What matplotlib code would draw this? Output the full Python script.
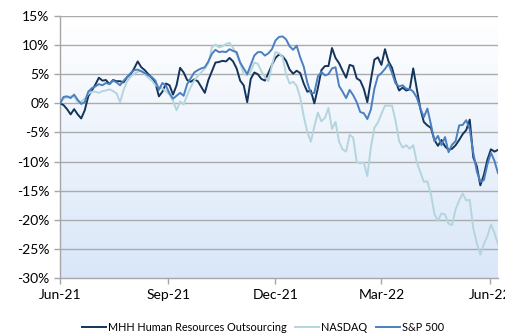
import matplotlib
matplotlib.use("Agg")
import matplotlib.pyplot as plt
import matplotlib.dates as mdates
import numpy as np
import pandas as pd

# one observation every 3 days, starting 1 Jun 2021
dates = pd.date_range("2021-06-01", periods=125, freq="3D")

# cumulative return since Jun-21, in %
mhh = [0, -0.3, -1.0, -1.9, -1.0, -1.9, -2.6, -1.2, 1.2, 2.2,
       3.2, 4.4, 3.9, 4.0, 3.3, 4.0, 3.8, 3.8, 3.6, 4.5,
       5.0, 6.0, 7.2, 6.2, 5.7, 5.0, 4.4, 3.5, 1.2, 2.0,
       3.4, 3.1, 1.5, 3.1, 6.1, 5.3, 4.0, 3.7, 4.1, 3.8,
       2.8, 1.8, 4.0, 5.5, 7.0, 7.1, 7.3, 7.2, 7.8, 7.2,
       6.0, 3.9, 3.1, 0.2, 4.2, 5.3, 5.0, 4.2, 3.9, 5.2,
       6.6, 7.8, 8.4, 8.1, 7.3, 5.8, 5.1, 5.6, 5.2, 3.4,
       2.0, 2.2, 0.0, 2.6, 5.7, 6.4, 6.4, 9.5, 7.8, 6.9,
       5.6, 4.4, 6.6, 6.4, 4.3, 3.9, 2.5, 0.2, 4.0, 7.5,
       7.9, 6.6, 9.3, 7.2, 6.1, 3.8, 2.2, 2.7, 2.2, 2.4,
       6.0, 2.5, -0.9, -3.2, -3.8, -4.2, -6.3, -7.3, -6.3, -7.4,
       -8.0, -7.8, -7.2, -6.3, -5.3, -4.6, -2.8, -9.3, -10.8, -14.1,
       -12.3, -9.7, -7.9, -8.3, -8.0]

nasdaq = [0, 0.8, 1.0, 1.2, 1.2, 0.2, 0.3, 0.8, 1.6, 2.0,
          2.0, 1.8, 2.1, 2.2, 2.4, 2.1, 1.7, 0.2, 2.3, 3.8,
          4.6, 5.1, 5.4, 5.6, 5.0, 4.4, 3.9, 3.1, 2.8, 2.5,
          2.1, 1.5, 0.4, -1.2, 0.3, -0.2, 1.4, 2.8, 3.9, 4.7,
          5.3, 6.0, 6.9, 9.6, 10.1, 9.6, 9.8, 10.2, 10.4, 9.5,
          8.4, 7.0, 5.0, 4.8, 5.5, 7.0, 6.8, 5.5, 4.5, 3.8,
          6.5, 8.8, 8.6, 8.0, 5.0, 3.4, 3.7, 3.0, 1.0, -2.2,
          -4.9, -6.6, -4.0, -1.6, -3.1, -2.5, -0.8, -4.4, -3.2, -6.6,
          -7.9, -8.3, -5.4, -5.9, -10.1, -10.3, -10.2, -12.5, -7.6, -4.2,
          -3.3, -1.8, -0.4, -0.4, -0.4, -3.0, -6.5, -7.6, -7.2, -7.8,
          -7.2, -10.1, -11.8, -13.5, -13.4, -15.6, -19.0, -20.2, -18.9, -19.1,
          -20.7, -20.9, -18.2, -16.7, -15.5, -16.7, -16.6, -21.5, -24.0, -26.0,
          -24.2, -22.8, -20.8, -22.3, -24.2]

sp500 = [0, 1.1, 1.2, 0.9, 1.5, 0.6, -0.1, 0.2, 2.0, 2.6,
         2.9, 3.3, 3.1, 3.5, 3.3, 3.9, 3.6, 3.1, 3.9, 4.5,
         5.2, 5.7, 5.8, 5.5, 5.2, 4.8, 4.5, 3.9, 2.3, 3.5,
         3.0, 1.7, 0.8, 1.3, 1.8, 1.3, 3.3, 4.3, 5.3, 5.7,
         6.0, 6.2, 7.2, 8.5, 9.2, 8.8, 8.9, 8.8, 9.3, 9.0,
         8.8, 7.0, 6.0, 5.0, 6.6, 8.2, 8.8, 8.8, 8.2, 8.6,
         9.3, 10.8, 11.4, 11.5, 11.0, 9.8, 9.2, 9.9, 7.9, 6.3,
         3.6, 1.7, 1.8, 4.6, 5.4, 4.8, 5.0, 6.0, 6.2, 3.0,
         2.0, 0.9, 2.3, 1.4, 0.2, -1.5, -1.7, -2.7, -1.1, 2.5,
         4.7, 5.2, 5.9, 6.8, 5.2, 3.4, 2.9, 3.1, 2.5, 2.5,
         2.0, 1.0, -0.8, -2.4, -0.9, -3.6, -6.5, -5.6, -7.2, -5.8,
         -8.4, -7.1, -6.5, -3.8, -3.7, -2.9, -4.5, -8.5, -11.7, -13.5,
         -13.2, -10.5, -8.5, -9.9, -12.0]

series_names = ["MHH Human Resources Outsourcing", "NASDAQ", "S&P 500"]
series_colors = ["#14345a", "#b4d5de", "#4b7fbf"]
yticks = [-30, -25, -20, -15, -10, -5, 0, 5, 10, 15]
xticks = ["2021-06-01", "2021-09-01", "2021-12-01", "2022-03-01", "2022-06-01"]

plt.rcParams["font.family"] = ["Lato", "DejaVu Sans"]

fig = plt.figure(figsize=(5.06, 3.34), dpi=100)
ax = fig.add_axes([0.1186, 0.168, 0.8656, 0.784])

# white-to-pale-blue fill of the plot area
grad = np.linspace(1, 0, 256).reshape(-1, 1)
bg = np.ones((256, 1, 3))
top = np.array([1.0, 1.0, 1.0])
bot = np.array([0.85, 0.905, 0.975])
bg[:, 0, :] = bot + (top - bot) * grad
ax.imshow(bg, extent=[0, 1, 0, 1], transform=ax.transAxes, aspect="auto", zorder=0)

for y in yticks[1:]:
    ax.axhline(y, color="#ababab", lw=1.0, zorder=1)

for vals, name, col in zip([mhh, nasdaq, sp500], series_names, series_colors):
    ax.plot(dates, vals, color=col, lw=1.4, label=name, zorder=3)

ax.set_xlim(dates[0], dates[-1])
ax.set_ylim(-30, 15)
ax.set_yticks(yticks)
ax.set_yticklabels([f"{v}%" for v in yticks])
ax.set_xticks(pd.to_datetime(xticks))
ax.xaxis.set_major_formatter(mdates.DateFormatter("%b-%y"))

for s in ["top", "right"]:
    ax.spines[s].set_visible(False)
for s in ["left", "bottom"]:
    ax.spines[s].set_color("#a6a6a6")
    ax.spines[s].set_linewidth(1.0)
ax.tick_params(axis="both", colors="#a6a6a6", labelcolor="black", labelsize=10,
               length=4, width=1.0)
ax.tick_params(axis="x", pad=4)

leg = fig.legend(loc="lower center", bbox_to_anchor=(0.52, -0.025), ncol=3,
                 frameon=False, fontsize=7.8, handlelength=2.2, handletextpad=0.2,
                 columnspacing=0.8)

fig.savefig("out.png", dpi=100)
